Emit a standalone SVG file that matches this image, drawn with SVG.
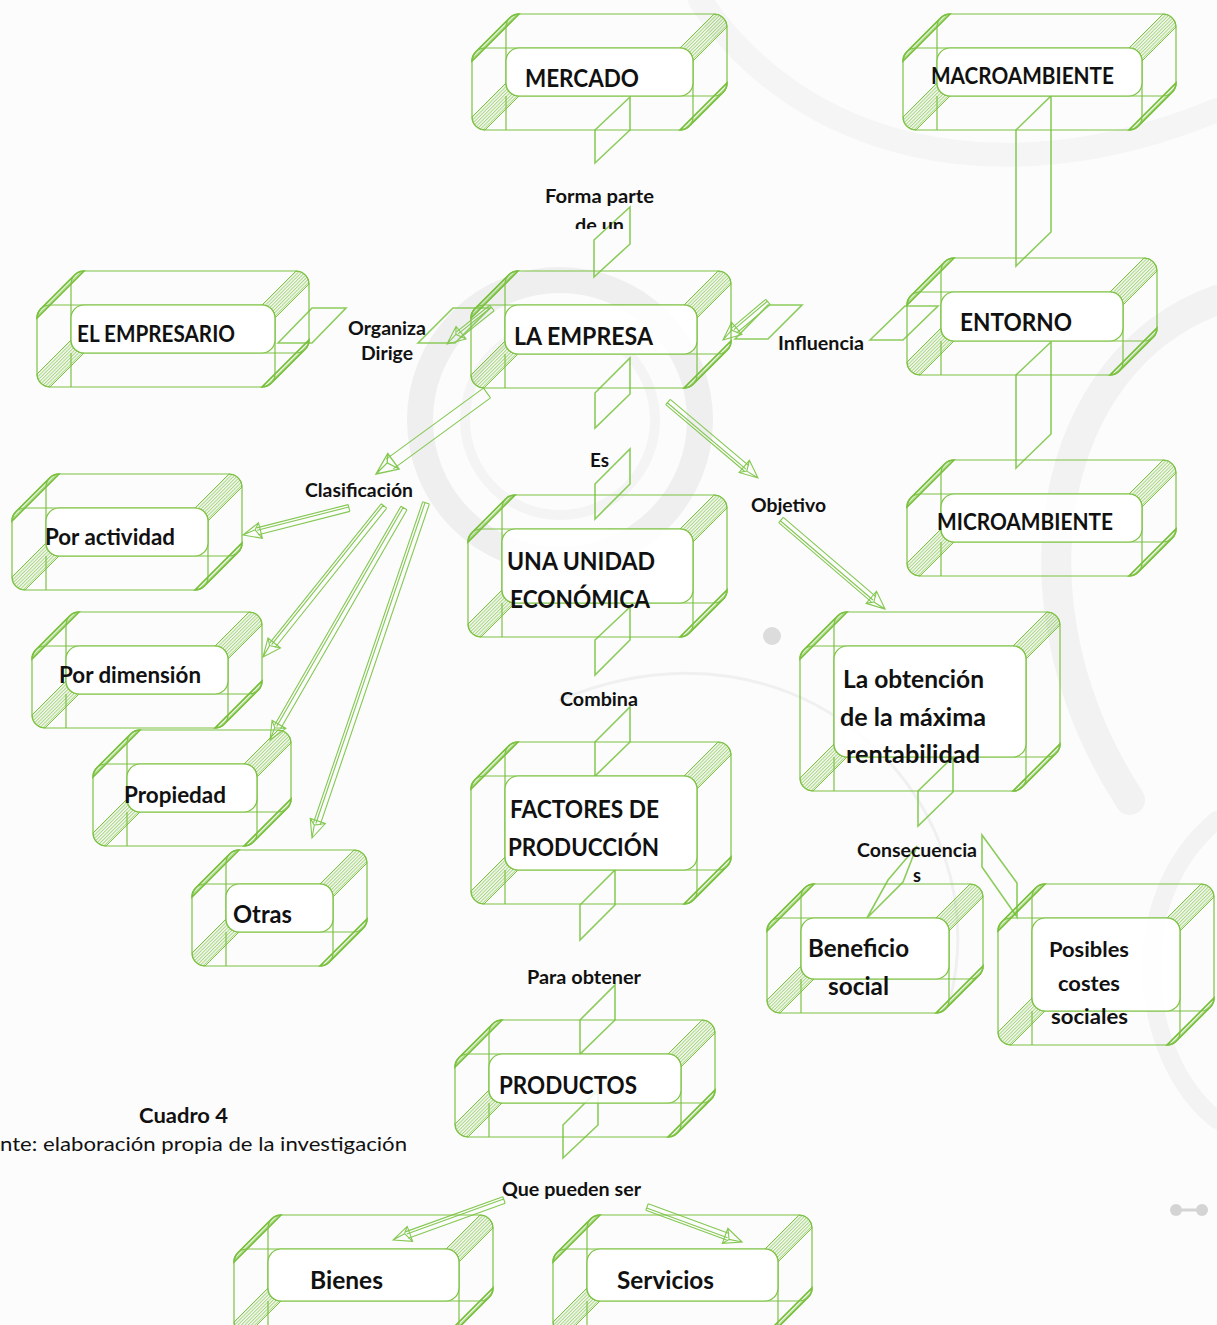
<svg xmlns="http://www.w3.org/2000/svg" xmlns:xlink="http://www.w3.org/1999/xlink" width="1217" height="1325" viewBox="0 0 1217 1325">
  <style>
    .edge { fill: none; stroke: #7dc243; stroke-width: 1.2; }
    .inner { fill: #ffffff; fill-opacity: 0.85; stroke: #7dc243; stroke-width: 1.2; }
    .band { fill: url(#hatch); stroke: #7dc243; stroke-width: 1; }
    .band2 { fill: url(#hatch); stroke: #74bf36; stroke-width: 1.6; }
    .plate { fill: none; stroke: #8ccc5c; stroke-width: 1.6; }
    .ar { fill: none; stroke: #84c852; stroke-width: 1.1; }
    .t { font-family: Lato, "Liberation Sans", sans-serif; font-weight: 700; fill: #111; }
    .big { font-size: 24px; }
    .mid { font-size: 22px; }
    .lbl { font-size: 18px; }
    .reg { font-family: Lato, "Liberation Sans", sans-serif; font-weight: 400; font-size: 20px; fill: #111; }
  </style>
  <defs>
    <pattern id="hatch" width="2.4" height="10" patternUnits="userSpaceOnUse" patternTransform="rotate(45)">
      <line x1="0.6" y1="0" x2="0.6" y2="10" stroke="#7dc243" stroke-width="0.8"/>
    </pattern>
    <!-- corner bevels of a rounded box (radius 13, depth 34) -->
    <path id="bTL" d="M0,13 A13,13 0 0 1 3.81,3.81 L37.81,-30.19 A13,13 0 0 1 47,-34 Z"/>
    <path id="bTR" d="M-13,0 A13,13 0 0 1 0,13 L-34,47 A13,13 0 0 0 -47,34 Z"/>
    <path id="bBL" d="M0,-13 A13,13 0 0 0 13,0 L47,-34 A13,13 0 0 1 34,-47 Z"/>
    <path id="bBR" d="M-13,0 A13,13 0 0 0 -3.81,-3.81 L30.19,-37.81 A13,13 0 0 0 34,-47 Z"/>
    <!-- pyramid arrow head, tip at origin, pointing +x -->
    <path id="head" d="M0,0 L-18,-8 L-18,8 Z M-18,-8 L-13,2 L-18,8 M-13,2 L0,0"/>
    <clipPath id="clipDeUn"><rect x="540" y="205" width="130" height="24"/></clipPath>
  </defs>

  <!-- page background with faint decorative swirls -->
  <rect width="1217" height="1325" fill="#fcfcfc"/>
  <g id="background" fill="none" stroke-linecap="round">
    <circle cx="560" cy="420" r="140" stroke="#efefef" stroke-width="26"/>
    <circle cx="560" cy="420" r="95" stroke="#f4f4f4" stroke-width="10"/>
    <path d="M700,0 C800,150 1000,200 1217,110" stroke="#f5f5f5" stroke-width="24"/>
    <path d="M1217,300 C1050,360 1000,600 1130,800" stroke="#f2f2f2" stroke-width="30"/>
    <path d="M1217,820 C1120,900 1140,1060 1217,1120" stroke="#f3f3f3" stroke-width="18"/>
    <path d="M560,700 C800,600 1000,800 950,1000" stroke="#f0f0f0" stroke-width="3"/>
    <circle cx="772" cy="636" r="9" fill="#dcdcdc" stroke="none"/>
    <circle cx="1176" cy="1210" r="6" fill="#d4d4d4" stroke="none"/>
    <circle cx="1202" cy="1210" r="6" fill="#d4d4d4" stroke="none"/>
    <path d="M1182,1210 H1196" stroke="#d4d4d4" stroke-width="3"/>
  </g>

  <!-- connectors -->
  <g id="connectors">
    <polygon class="plate" points="595,130 630,97 630,130 595,163"/>
    <polygon class="plate" points="594,240 630,207 630,244 594,277"/>
    <polygon class="plate" points="595,393 630,358 630,394 595,428"/>
    <polygon class="plate" points="595,484 630,449 630,484 595,519"/>
    <polygon class="plate" points="595,640 630,607 630,640 595,675"/>
    <polygon class="plate" points="595,742 630,707 630,742 595,776"/>
    <polygon class="plate" points="580,905 615,870 615,905 580,940"/>
    <polygon class="plate" points="580,1020 615,985 615,1020 580,1054"/>
    <polygon class="plate" points="563,1125 598,1090 598,1125 563,1158"/>
    <polygon class="plate" points="1016,130 1051,96 1051,232 1016,266"/>
    <polygon class="plate" points="1016,375 1051,342 1051,434 1016,468"/>
    <polygon class="plate" points="870,340 905,306 938,306 903,340"/>
    <polygon class="plate" points="735,339 768,305 802,305 768,339"/>
    <polygon class="plate" points="278,343 312,308 346,308 312,343"/>
    <polygon class="plate" points="418,343 453,308 490,308 455,343"/>
    <polygon class="plate" points="918,791 953,757 953,792 918,826"/>
    <polygon class="plate" points="867,918 888,880 917,846 903,882"/>
    <polygon class="plate" points="982,835 1017,883 1017,917 982,867"/>

    <!-- 3D arrows -->
    <g transform="translate(447,344) rotate(141.34)"><path class="ar" d="M-57.6,-3.5H-15M-57.6,3.5H-15M-57.6,1H-15M-57.6,-3.5V3.5"/><use href="#head" class="ar"/></g>
    <g transform="translate(723,340) rotate(139.82)"><path class="ar" d="M-58.9,-3.5H-15M-58.9,3.5H-15M-58.9,1H-15M-58.9,-3.5V3.5"/><use href="#head" class="ar"/></g>
    <g transform="translate(376,474) rotate(143.88)"><path class="ar" d="M-137.4,-6H-17M-137.4,6H-17M-137.4,-6V6"/><use href="#head" class="ar" transform="scale(1.2)"/></g>
    <g transform="translate(758,478) rotate(40.18)"><path class="ar" d="M-117.8,-3.5H-15M-117.8,3.5H-15M-117.8,1H-15M-117.8,-3.5V3.5"/><use href="#head" class="ar"/></g>
    <g transform="translate(885,609) rotate(40.56)"><path class="ar" d="M-136.9,-3.5H-15M-136.9,3.5H-15M-136.9,1H-15M-136.9,-3.5V3.5"/><use href="#head" class="ar"/></g>
    <g transform="translate(243,535) rotate(165.71)"><path class="ar" d="M-109.4,-3.5H-15M-109.4,3.5H-15M-109.4,1H-15M-109.4,-3.5V3.5"/><use href="#head" class="ar"/></g>
    <g transform="translate(263,657) rotate(128.7)"><path class="ar" d="M-193.5,-3.5H-15M-193.5,3.5H-15M-193.5,1H-15M-193.5,-3.5V3.5"/><use href="#head" class="ar"/></g>
    <g transform="translate(270,740) rotate(120.01)"><path class="ar" d="M-267.9,-3.5H-15M-267.9,3.5H-15M-267.9,1H-15M-267.9,-3.5V3.5"/><use href="#head" class="ar"/></g>
    <g transform="translate(312,838) rotate(108.79)"><path class="ar" d="M-353.9,-3.5H-15M-353.9,3.5H-15M-353.9,1H-15M-353.9,-3.5V3.5"/><use href="#head" class="ar"/></g>
    <g transform="translate(393,1240) rotate(160.18)"><path class="ar" d="M-118,-3.5H-15M-118,3.5H-15M-118,1H-15M-118,-3.5V3.5"/><use href="#head" class="ar"/></g>
    <g transform="translate(742,1242) rotate(20.22)"><path class="ar" d="M-101.2,-3.5H-15M-101.2,3.5H-15M-101.2,1H-15M-101.2,-3.5V3.5"/><use href="#head" class="ar"/></g>
  </g>

  <!-- nodes: front face, back face, shared face, hidden edge, four bevels -->
  <g id="n-mercado">
    <use href="#bTL" class="band2" x="472" y="48"/><use href="#bTR" class="band" x="727" y="14"/>
    <use href="#bBL" class="band" x="472" y="130"/><use href="#bBR" class="band2" x="693" y="130"/>
    <rect class="edge" x="472" y="48" width="221" height="82" rx="13"/>
    <rect class="edge" x="506" y="14" width="221" height="82" rx="13"/>
    <rect class="inner" x="506" y="48" width="187" height="48" rx="13"/>
    <path class="edge" d="M506,96V130"/>
    <text class="t big" x="525" y="87" textLength="114" lengthAdjust="spacingAndGlyphs">MERCADO</text>
  </g>
  <g id="n-macroambiente">
    <use href="#bTL" class="band2" x="903" y="48"/><use href="#bTR" class="band" x="1176" y="14"/>
    <use href="#bBL" class="band" x="903" y="130"/><use href="#bBR" class="band2" x="1142" y="130"/>
    <rect class="edge" x="903" y="48" width="239" height="82" rx="13"/>
    <rect class="edge" x="937" y="14" width="239" height="82" rx="13"/>
    <rect class="inner" x="937" y="48" width="205" height="48" rx="13"/>
    <path class="edge" d="M937,96V130"/>
    <text class="t mid" x="931" y="84" textLength="183" lengthAdjust="spacingAndGlyphs">MACROAMBIENTE</text>
  </g>
  <g id="n-entorno">
    <use href="#bTL" class="band2" x="907" y="292"/><use href="#bTR" class="band" x="1157" y="258"/>
    <use href="#bBL" class="band" x="907" y="375"/><use href="#bBR" class="band2" x="1123" y="375"/>
    <rect class="edge" x="907" y="292" width="216" height="83" rx="13"/>
    <rect class="edge" x="941" y="258" width="216" height="83" rx="13"/>
    <rect class="inner" x="941" y="292" width="182" height="49" rx="13"/>
    <path class="edge" d="M941,341V375"/>
    <text class="t big" x="960" y="331" textLength="112" lengthAdjust="spacingAndGlyphs">ENTORNO</text>
  </g>
  <g id="n-microambiente">
    <use href="#bTL" class="band2" x="907" y="494"/><use href="#bTR" class="band" x="1176" y="460"/>
    <use href="#bBL" class="band" x="907" y="576"/><use href="#bBR" class="band2" x="1142" y="576"/>
    <rect class="edge" x="907" y="494" width="235" height="82" rx="13"/>
    <rect class="edge" x="941" y="460" width="235" height="82" rx="13"/>
    <rect class="inner" x="941" y="494" width="201" height="48" rx="13"/>
    <path class="edge" d="M941,542V576"/>
    <text class="t mid" x="937" y="530" textLength="176" lengthAdjust="spacingAndGlyphs">MICROAMBIENTE</text>
  </g>
  <g id="n-la-empresa">
    <use href="#bTL" class="band2" x="471" y="305"/><use href="#bTR" class="band" x="731" y="271"/>
    <use href="#bBL" class="band" x="471" y="388"/><use href="#bBR" class="band2" x="697" y="388"/>
    <rect class="edge" x="471" y="305" width="226" height="83" rx="13"/>
    <rect class="edge" x="505" y="271" width="226" height="83" rx="13"/>
    <rect class="inner" x="505" y="305" width="192" height="49" rx="13"/>
    <path class="edge" d="M505,354V388"/>
    <text class="t big" x="514" y="345" textLength="139" lengthAdjust="spacingAndGlyphs">LA EMPRESA</text>
  </g>
  <g id="n-el-empresario">
    <use href="#bTL" class="band2" x="37" y="305"/><use href="#bTR" class="band" x="309" y="271"/>
    <use href="#bBL" class="band" x="37" y="387"/><use href="#bBR" class="band2" x="275" y="387"/>
    <rect class="edge" x="37" y="305" width="238" height="82" rx="13"/>
    <rect class="edge" x="71" y="271" width="238" height="82" rx="13"/>
    <rect class="inner" x="71" y="305" width="204" height="48" rx="13"/>
    <path class="edge" d="M71,353V387"/>
    <text class="t mid" x="77" y="342" textLength="158" lengthAdjust="spacingAndGlyphs">EL EMPRESARIO</text>
  </g>
  <g id="n-unidad-economica">
    <use href="#bTL" class="band2" x="468" y="529"/><use href="#bTR" class="band" x="727" y="495"/>
    <use href="#bBL" class="band" x="468" y="637"/><use href="#bBR" class="band2" x="693" y="637"/>
    <rect class="edge" x="468" y="529" width="225" height="108" rx="13"/>
    <rect class="edge" x="502" y="495" width="225" height="108" rx="13"/>
    <rect class="inner" x="502" y="529" width="191" height="74" rx="13"/>
    <path class="edge" d="M502,603V637"/>
    <text class="t big" x="507" y="570" textLength="148" lengthAdjust="spacingAndGlyphs">UNA UNIDAD</text>
    <text class="t big" x="510" y="608" textLength="140" lengthAdjust="spacingAndGlyphs">ECONÓMICA</text>
  </g>
  <g id="n-rentabilidad">
    <use href="#bTL" class="band2" x="800" y="646"/><use href="#bTR" class="band" x="1060" y="612"/>
    <use href="#bBL" class="band" x="800" y="791"/><use href="#bBR" class="band2" x="1026" y="791"/>
    <rect class="edge" x="800" y="646" width="226" height="145" rx="13"/>
    <rect class="edge" x="834" y="612" width="226" height="145" rx="13"/>
    <rect class="inner" x="834" y="646" width="192" height="111" rx="13"/>
    <path class="edge" d="M834,757V791"/>
    <text class="t big" x="843" y="688" textLength="141" lengthAdjust="spacingAndGlyphs">La obtención</text>
    <text class="t big" x="840" y="726" textLength="146" lengthAdjust="spacingAndGlyphs">de la máxima</text>
    <text class="t big" x="846" y="763" textLength="134" lengthAdjust="spacingAndGlyphs">rentabilidad</text>
  </g>
  <g id="n-factores">
    <use href="#bTL" class="band2" x="471" y="776"/><use href="#bTR" class="band" x="731" y="742"/>
    <use href="#bBL" class="band" x="471" y="904"/><use href="#bBR" class="band2" x="697" y="904"/>
    <rect class="edge" x="471" y="776" width="226" height="128" rx="13"/>
    <rect class="edge" x="505" y="742" width="226" height="128" rx="13"/>
    <rect class="inner" x="505" y="776" width="192" height="94" rx="13"/>
    <path class="edge" d="M505,870V904"/>
    <text class="t big" x="510" y="818" textLength="149" lengthAdjust="spacingAndGlyphs">FACTORES DE</text>
    <text class="t big" x="508" y="856" textLength="151" lengthAdjust="spacingAndGlyphs">PRODUCCIÓN</text>
  </g>
  <g id="n-productos">
    <use href="#bTL" class="band2" x="455" y="1054"/><use href="#bTR" class="band" x="715" y="1020"/>
    <use href="#bBL" class="band" x="455" y="1137"/><use href="#bBR" class="band2" x="681" y="1137"/>
    <rect class="edge" x="455" y="1054" width="226" height="83" rx="13"/>
    <rect class="edge" x="489" y="1020" width="226" height="83" rx="13"/>
    <rect class="inner" x="489" y="1054" width="192" height="49" rx="13"/>
    <path class="edge" d="M489,1103V1137"/>
    <text class="t big" x="499" y="1094" textLength="138" lengthAdjust="spacingAndGlyphs">PRODUCTOS</text>
  </g>
  <g id="n-por-actividad">
    <use href="#bTL" class="band2" x="12" y="508"/><use href="#bTR" class="band" x="242" y="474"/>
    <use href="#bBL" class="band" x="12" y="590"/><use href="#bBR" class="band2" x="208" y="590"/>
    <rect class="edge" x="12" y="508" width="196" height="82" rx="13"/>
    <rect class="edge" x="46" y="474" width="196" height="82" rx="13"/>
    <rect class="inner" x="46" y="508" width="162" height="48" rx="13"/>
    <path class="edge" d="M46,556V590"/>
    <text class="t mid" x="45" y="545" textLength="130" lengthAdjust="spacingAndGlyphs">Por actividad</text>
  </g>
  <g id="n-por-dimension">
    <use href="#bTL" class="band2" x="32" y="646"/><use href="#bTR" class="band" x="262" y="612"/>
    <use href="#bBL" class="band" x="32" y="728"/><use href="#bBR" class="band2" x="228" y="728"/>
    <rect class="edge" x="32" y="646" width="196" height="82" rx="13"/>
    <rect class="edge" x="66" y="612" width="196" height="82" rx="13"/>
    <rect class="inner" x="66" y="646" width="162" height="48" rx="13"/>
    <path class="edge" d="M66,694V728"/>
    <text class="t mid" x="59" y="683" textLength="142" lengthAdjust="spacingAndGlyphs">Por dimensión</text>
  </g>
  <g id="n-propiedad">
    <use href="#bTL" class="band2" x="93" y="764"/><use href="#bTR" class="band" x="291" y="730"/>
    <use href="#bBL" class="band" x="93" y="846"/><use href="#bBR" class="band2" x="257" y="846"/>
    <rect class="edge" x="93" y="764" width="164" height="82" rx="13"/>
    <rect class="edge" x="127" y="730" width="164" height="82" rx="13"/>
    <rect class="inner" x="127" y="764" width="130" height="48" rx="13"/>
    <path class="edge" d="M127,812V846"/>
    <text class="t mid" x="124" y="803" textLength="102" lengthAdjust="spacingAndGlyphs">Propiedad</text>
  </g>
  <g id="n-otras">
    <use href="#bTL" class="band2" x="192" y="884"/><use href="#bTR" class="band" x="367" y="850"/>
    <use href="#bBL" class="band" x="192" y="966"/><use href="#bBR" class="band2" x="333" y="966"/>
    <rect class="edge" x="192" y="884" width="141" height="82" rx="13"/>
    <rect class="edge" x="226" y="850" width="141" height="82" rx="13"/>
    <rect class="inner" x="226" y="884" width="107" height="48" rx="13"/>
    <path class="edge" d="M226,932V966"/>
    <text class="t big" x="233" y="923" textLength="59" lengthAdjust="spacingAndGlyphs">Otras</text>
  </g>
  <g id="n-beneficio-social">
    <use href="#bTL" class="band2" x="767" y="918"/><use href="#bTR" class="band" x="983" y="884"/>
    <use href="#bBL" class="band" x="767" y="1013"/><use href="#bBR" class="band2" x="949" y="1013"/>
    <rect class="edge" x="767" y="918" width="182" height="95" rx="13"/>
    <rect class="edge" x="801" y="884" width="182" height="95" rx="13"/>
    <rect class="inner" x="801" y="918" width="148" height="61" rx="13"/>
    <path class="edge" d="M801,979V1013"/>
    <text class="t big" x="808" y="957" textLength="101" lengthAdjust="spacingAndGlyphs">Beneficio</text>
    <text class="t big" x="828" y="995" textLength="61" lengthAdjust="spacingAndGlyphs">social</text>
  </g>
  <g id="n-costes-sociales">
    <use href="#bTL" class="band2" x="998" y="918"/><use href="#bTR" class="band" x="1214" y="884"/>
    <use href="#bBL" class="band" x="998" y="1045"/><use href="#bBR" class="band2" x="1180" y="1045"/>
    <rect class="edge" x="998" y="918" width="182" height="127" rx="13"/>
    <rect class="edge" x="1032" y="884" width="182" height="127" rx="13"/>
    <rect class="inner" x="1032" y="918" width="148" height="93" rx="13"/>
    <path class="edge" d="M1032,1011V1045"/>
    <text class="t" font-size="20" x="1049" y="957" textLength="80" lengthAdjust="spacingAndGlyphs">Posibles</text>
    <text class="t" font-size="20" x="1058" y="991" textLength="62" lengthAdjust="spacingAndGlyphs">costes</text>
    <text class="t" font-size="20" x="1051" y="1024" textLength="77" lengthAdjust="spacingAndGlyphs">sociales</text>
  </g>
  <g id="n-bienes">
    <use href="#bTL" class="band2" x="234" y="1249"/><use href="#bTR" class="band" x="493" y="1215"/>
    <use href="#bBL" class="band" x="234" y="1335"/><use href="#bBR" class="band2" x="459" y="1335"/>
    <rect class="edge" x="234" y="1249" width="225" height="86" rx="13"/>
    <rect class="edge" x="268" y="1215" width="225" height="86" rx="13"/>
    <rect class="inner" x="268" y="1249" width="191" height="52" rx="13"/>
    <path class="edge" d="M268,1301V1335"/>
    <text class="t big" x="310" y="1289" textLength="73" lengthAdjust="spacingAndGlyphs">Bienes</text>
  </g>
  <g id="n-servicios">
    <use href="#bTL" class="band2" x="553" y="1249"/><use href="#bTR" class="band" x="812" y="1215"/>
    <use href="#bBL" class="band" x="553" y="1335"/><use href="#bBR" class="band2" x="778" y="1335"/>
    <rect class="edge" x="553" y="1249" width="225" height="86" rx="13"/>
    <rect class="edge" x="587" y="1215" width="225" height="86" rx="13"/>
    <rect class="inner" x="587" y="1249" width="191" height="52" rx="13"/>
    <path class="edge" d="M587,1301V1335"/>
    <text class="t big" x="617" y="1289" textLength="97" lengthAdjust="spacingAndGlyphs">Servicios</text>
  </g>

  <!-- connector labels -->
  <g id="labels">
    <text class="t lbl" x="545" y="203" textLength="109" lengthAdjust="spacingAndGlyphs">Forma parte</text>
    <text class="t lbl" x="575" y="232" textLength="49" lengthAdjust="spacingAndGlyphs" clip-path="url(#clipDeUn)">de un</text>
    <text class="t lbl" x="348" y="335" textLength="78" lengthAdjust="spacingAndGlyphs">Organiza</text>
    <text class="t lbl" x="361" y="360" textLength="52" lengthAdjust="spacingAndGlyphs">Dirige</text>
    <text class="t lbl" x="778" y="350" textLength="86" lengthAdjust="spacingAndGlyphs">Influencia</text>
    <text class="t lbl" x="590" y="467" textLength="19" lengthAdjust="spacingAndGlyphs">Es</text>
    <text class="t lbl" x="305" y="497" textLength="108" lengthAdjust="spacingAndGlyphs">Clasificación</text>
    <text class="t lbl" x="751" y="512" textLength="75" lengthAdjust="spacingAndGlyphs">Objetivo</text>
    <text class="t lbl" x="560" y="706" textLength="78" lengthAdjust="spacingAndGlyphs">Combina</text>
    <text class="t lbl" x="527" y="984" textLength="114" lengthAdjust="spacingAndGlyphs">Para obtener</text>
    <text class="t lbl" x="857" y="857" textLength="120" lengthAdjust="spacingAndGlyphs">Consecuencia</text>
    <text class="t lbl" x="913" y="882" textLength="8" lengthAdjust="spacingAndGlyphs">s</text>
    <text class="t lbl" x="502" y="1196" textLength="139" lengthAdjust="spacingAndGlyphs">Que pueden ser</text>
  </g>

  <!-- caption -->
  <g id="caption">
    <text class="t" font-size="20" x="139" y="1123" textLength="89" lengthAdjust="spacingAndGlyphs">Cuadro 4</text>
    <text class="reg" x="0" y="1151" textLength="407" lengthAdjust="spacingAndGlyphs">nte: elaboración propia de la investigación</text>
  </g>
</svg>
